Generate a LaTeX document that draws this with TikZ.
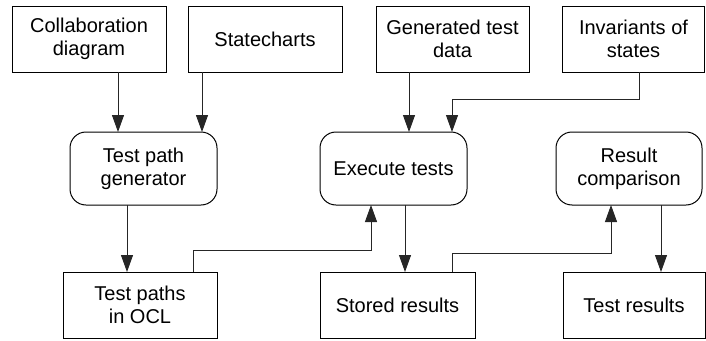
\documentclass[tikz,border=0pt]{standalone}
\usepackage{fontspec}
\setmainfont{Liberation Sans}
\usetikzlibrary{arrows.meta}
\begin{document}
\begin{tikzpicture}[x=1pt,y=-1pt,
  every node/.style={font=\fontsize{20}{23}\selectfont, align=center, inner sep=0pt, outer sep=0pt},
  databox/.style={draw=black, line width=1pt, minimum height=66pt},
  procbox/.style={draw=black, line width=1pt, rounded corners=16pt, minimum height=73pt},
  arr/.style={draw=black!85, line width=1pt, -{Triangle[width=12pt,length=17pt]}}]
\useasboundingbox (0,0) rectangle (706,340);
% top row
\node[databox, minimum width=154pt] (collab) at (89,39) {Collaboration\\diagram};
\node[databox, minimum width=154pt] (state) at (265,39) {Statecharts};
\node[databox, minimum width=153pt] (gen) at (452.5,39) {Generated test\\data};
\node[databox, minimum width=142pt] (inv) at (633.5,39) {Invariants of\\states};
% middle row
\node[procbox, minimum width=147pt] (tpg) at (143.5,168.5) {Test path\\generator};
\node[procbox, minimum width=147pt] (exec) at (393.5,168.5) {Execute tests};
\node[procbox, minimum width=146pt] (rc) at (629,168.5) {Result\\comparison};
% bottom row
\node[databox, minimum width=154pt] (tpo) at (140,305) {Test paths\\in OCL};
\node[databox, minimum width=155pt] (stored) at (397.5,305) {Stored results};
\node[databox, minimum width=142pt] (tr) at (634,305) {Test results};
% helper x positions
\coordinate (xa) at (118,0);
\coordinate (xb) at (202,0);
\coordinate (xc) at (409,0);
\coordinate (xd) at (639,0);
\coordinate (xe) at (452,0);
\coordinate (xf) at (127,0);
\coordinate (xg) at (193,0);
\coordinate (xh) at (371,0);
\coordinate (xi) at (405,0);
\coordinate (xj) at (452,0);
\coordinate (xk) at (611,0);
\coordinate (xl) at (661,0);
\coordinate (ya) at (0,99);
\coordinate (yb) at (0,250);
\coordinate (yc) at (0,253);
% connectors
\draw[arr] (collab.south -| xa) -- (tpg.north -| xa);
\draw[arr] (state.south -| xb) -- (tpg.north -| xb);
\draw[arr] (gen.south -| xc) -- (exec.north -| xc);
\draw[arr] (inv.south -| xd) -- (xd |- ya) -- (xe |- ya) -- (exec.north -| xe);
\draw[arr] (tpg.south -| xf) -- (tpo.north -| xf);
\draw[arr] (tpo.north -| xg) -- (xg |- yb) -- (xh |- yb) -- (exec.south -| xh);
\draw[arr] (exec.south -| xi) -- (stored.north -| xi);
\draw[arr] (stored.north -| xj) -- (xj |- yc) -- (xk |- yc) -- (rc.south -| xk);
\draw[arr] (rc.south -| xl) -- (tr.north -| xl);
\end{tikzpicture}
\end{document}
